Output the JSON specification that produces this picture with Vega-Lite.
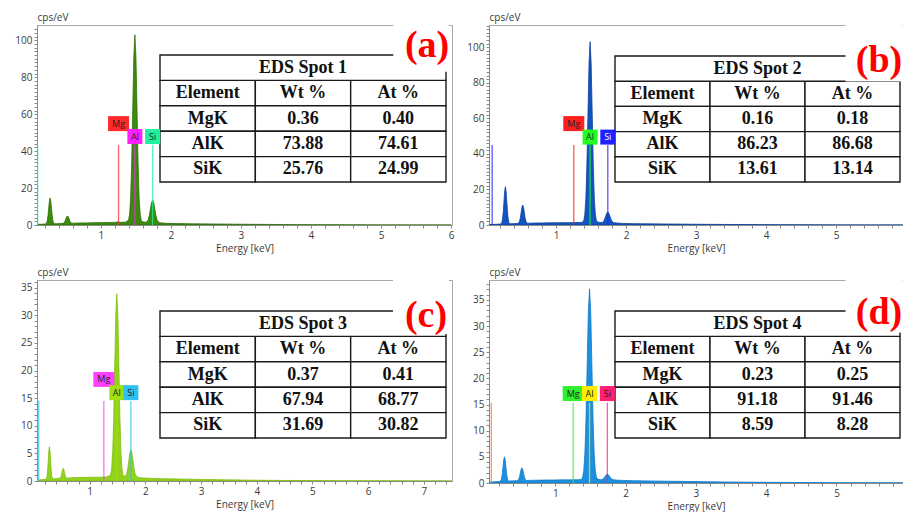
{
"$schema": "https://vega.github.io/schema/vega-lite/v6.json",
"background": "white",
"padding": {"left": 14, "top": 11, "right": 0, "bottom": 0},
"columns": 2,
"spacing": {"row": 55, "column": 37},
"bounds": "flush",
"resolve": {"scale": {"color": "independent", "shape": "independent"}},
"config": {
 "view": {"stroke": "#a8a8a8", "strokeWidth": 1},
 "axis": {"labelFont": "Open Sans", "labelFontSize": 10, "labelColor": "#3a3a3a", "titleFont": "Open Sans", "titleFontSize": 10, "titleFontWeight": "normal", "titleColor": "#3a3a3a", "domainColor": "#8a8a8a", "tickColor": "#8a8a8a", "tickSize": 3, "labelPadding": 2, "grid": false, "labelOverlap": false, "labelFlush": false, "labelBound": false},
 "axisX": {"titlePadding": 3},
 "axisY": {"titleAngle": 0, "titleAlign": "left", "titleBaseline": "middle", "titleX": 0, "titleY": -8, "titlePadding": 0}
},
"datasets": {
 "tbl": [
  {"p":"a","r":"t","k":"Wt %","v":"EDS Spot 1"},
  {"p":"a","r":"h","k":"Element","v":"Element"},{"p":"a","r":"h","k":"Wt %","v":"Wt %"},{"p":"a","r":"h","k":"At %","v":"At %"},
  {"p":"a","r":"MgK","k":"Element","v":"MgK"},{"p":"a","r":"MgK","k":"Wt %","v":"0.36"},{"p":"a","r":"MgK","k":"At %","v":"0.40"},
  {"p":"a","r":"AlK","k":"Element","v":"AlK"},{"p":"a","r":"AlK","k":"Wt %","v":"73.88"},{"p":"a","r":"AlK","k":"At %","v":"74.61"},
  {"p":"a","r":"SiK","k":"Element","v":"SiK"},{"p":"a","r":"SiK","k":"Wt %","v":"25.76"},{"p":"a","r":"SiK","k":"At %","v":"24.99"},
  {"p":"b","r":"t","k":"Wt %","v":"EDS Spot 2"},
  {"p":"b","r":"h","k":"Element","v":"Element"},{"p":"b","r":"h","k":"Wt %","v":"Wt %"},{"p":"b","r":"h","k":"At %","v":"At %"},
  {"p":"b","r":"MgK","k":"Element","v":"MgK"},{"p":"b","r":"MgK","k":"Wt %","v":"0.16"},{"p":"b","r":"MgK","k":"At %","v":"0.18"},
  {"p":"b","r":"AlK","k":"Element","v":"AlK"},{"p":"b","r":"AlK","k":"Wt %","v":"86.23"},{"p":"b","r":"AlK","k":"At %","v":"86.68"},
  {"p":"b","r":"SiK","k":"Element","v":"SiK"},{"p":"b","r":"SiK","k":"Wt %","v":"13.61"},{"p":"b","r":"SiK","k":"At %","v":"13.14"},
  {"p":"c","r":"t","k":"Wt %","v":"EDS Spot 3"},
  {"p":"c","r":"h","k":"Element","v":"Element"},{"p":"c","r":"h","k":"Wt %","v":"Wt %"},{"p":"c","r":"h","k":"At %","v":"At %"},
  {"p":"c","r":"MgK","k":"Element","v":"MgK"},{"p":"c","r":"MgK","k":"Wt %","v":"0.37"},{"p":"c","r":"MgK","k":"At %","v":"0.41"},
  {"p":"c","r":"AlK","k":"Element","v":"AlK"},{"p":"c","r":"AlK","k":"Wt %","v":"67.94"},{"p":"c","r":"AlK","k":"At %","v":"68.77"},
  {"p":"c","r":"SiK","k":"Element","v":"SiK"},{"p":"c","r":"SiK","k":"Wt %","v":"31.69"},{"p":"c","r":"SiK","k":"At %","v":"30.82"},
  {"p":"d","r":"t","k":"Wt %","v":"EDS Spot 4"},
  {"p":"d","r":"h","k":"Element","v":"Element"},{"p":"d","r":"h","k":"Wt %","v":"Wt %"},{"p":"d","r":"h","k":"At %","v":"At %"},
  {"p":"d","r":"MgK","k":"Element","v":"MgK"},{"p":"d","r":"MgK","k":"Wt %","v":"0.23"},{"p":"d","r":"MgK","k":"At %","v":"0.25"},
  {"p":"d","r":"AlK","k":"Element","v":"AlK"},{"p":"d","r":"AlK","k":"Wt %","v":"91.18"},{"p":"d","r":"AlK","k":"At %","v":"91.46"},
  {"p":"d","r":"SiK","k":"Element","v":"SiK"},{"p":"d","r":"SiK","k":"Wt %","v":"8.59"},{"p":"d","r":"SiK","k":"At %","v":"8.28"}
 ],
 "lines": [
  {"p":"a","el":"Mg","e":1.254,"c":43.3},{"p":"a","el":"Al","e":1.487,"c":43.3},{"p":"a","el":"Si","e":1.74,"c":43.3},{"p":"a","el":"SiL","e":0.1,"c":43.3},
  {"p":"b","el":"Mg","e":1.254,"c":45},{"p":"b","el":"Al","e":1.487,"c":45},{"p":"b","el":"Si","e":1.74,"c":45},{"p":"b","el":"SiL","e":0.088,"c":45},
  {"p":"c","el":"Mg","e":1.254,"c":14.5},{"p":"c","el":"Al","e":1.487,"c":14.5},{"p":"c","el":"Si","e":1.74,"c":14.5},{"p":"c","el":"SiL","e":0.085,"c":14.5},
  {"p":"d","el":"Mg","e":1.254,"c":15.35},{"p":"d","el":"Al","e":1.487,"c":15.35},{"p":"d","el":"Si","e":1.74,"c":15.35},{"p":"d","el":"SiL","e":0.09,"c":15.35}
 ],
 "tags": [
  {"p":"a","el":"Mg","e":1.254,"c":54.9},{"p":"a","el":"Al","e":1.487,"c":47.9},{"p":"a","el":"Si","e":1.74,"c":47.9},
  {"p":"b","el":"Mg","e":1.254,"c":57.0},{"p":"b","el":"Al","e":1.487,"c":49.4},{"p":"b","el":"Si","e":1.74,"c":49.4},
  {"p":"c","el":"Mg","e":1.254,"c":18.4},{"p":"c","el":"Al","e":1.487,"c":16.0},{"p":"c","el":"Si","e":1.74,"c":16.0},
  {"p":"d","el":"Mg","e":1.254,"c":17.1},{"p":"d","el":"Al","e":1.487,"c":17.1},{"p":"d","el":"Si","e":1.74,"c":17.1}
 ],
 "lab": [
  {"p":"a","v":"(a)","e":5.657,"c":96.9},
  {"p":"b","v":"(b)","e":5.614,"c":92.1},
  {"p":"c","v":"(c)","e":7.038,"c":29.9},
  {"p":"d","v":"(d)","e":5.605,"c":32.5}
 ],
 "spec": [
  {"p":"a","e":0.09,"c":0.3},{"p":"a","e":0.15,"c":0.4},{"p":"a","e":0.2,"c":0.5},{"p":"a","e":0.217,"c":0.66},{"p":"a","e":0.227,"c":1.12},{"p":"a","e":0.237,"c":2.4},{"p":"a","e":0.247,"c":5.08},{"p":"a","e":0.257,"c":9.06},{"p":"a","e":0.267,"c":12.94},{"p":"a","e":0.277,"c":14.6},{"p":"a","e":0.287,"c":12.9},{"p":"a","e":0.297,"c":9.1},{"p":"a","e":0.307,"c":5.1},{"p":"a","e":0.317,"c":2.4},{"p":"a","e":0.327,"c":1.1},{"p":"a","e":0.337,"c":0.7},{"p":"a","e":0.37,"c":0.7},{"p":"a","e":0.42,"c":0.8},{"p":"a","e":0.45,"c":0.9},{"p":"a","e":0.459,"c":0.94},{"p":"a","e":0.47,"c":1.08},{"p":"a","e":0.481,"c":1.44},{"p":"a","e":0.492,"c":2.2},{"p":"a","e":0.503,"c":3.33},{"p":"a","e":0.514,"c":4.43},{"p":"a","e":0.525,"c":4.9},{"p":"a","e":0.536,"c":4.43},{"p":"a","e":0.547,"c":3.33},{"p":"a","e":0.558,"c":2.2},{"p":"a","e":0.569,"c":1.44},{"p":"a","e":0.58,"c":1.08},{"p":"a","e":0.591,"c":0.95},{"p":"a","e":0.62,"c":1.0},{"p":"a","e":0.7,"c":1.1},{"p":"a","e":0.8,"c":1.15},{"p":"a","e":0.9,"c":1.25},{"p":"a","e":1.0,"c":1.3},{"p":"a","e":1.1,"c":1.35},{"p":"a","e":1.2,"c":1.4},{"p":"a","e":1.25,"c":1.7},{"p":"a","e":1.27,"c":1.5},{"p":"a","e":1.3,"c":1.45},{"p":"a","e":1.35,"c":1.5},{"p":"a","e":1.397,"c":2.6},{"p":"a","e":1.412,"c":6.0},{"p":"a","e":1.427,"c":15.2},{"p":"a","e":1.442,"c":34.5},{"p":"a","e":1.457,"c":63.1},{"p":"a","e":1.472,"c":91.1},{"p":"a","e":1.487,"c":103},{"p":"a","e":1.502,"c":91.1},{"p":"a","e":1.517,"c":63.1},{"p":"a","e":1.532,"c":34.5},{"p":"a","e":1.547,"c":15.2},{"p":"a","e":1.562,"c":6.0},{"p":"a","e":1.577,"c":2.6},{"p":"a","e":1.59,"c":1.9},{"p":"a","e":1.61,"c":1.6},{"p":"a","e":1.64,"c":1.5},{"p":"a","e":1.6625,"c":1.84},{"p":"a","e":1.678,"c":2.95},{"p":"a","e":1.6935,"c":5.26},{"p":"a","e":1.709,"c":8.7},{"p":"a","e":1.7245,"c":12.07},{"p":"a","e":1.74,"c":13.5},{"p":"a","e":1.7555,"c":12.07},{"p":"a","e":1.771,"c":8.7},{"p":"a","e":1.7865,"c":5.26},{"p":"a","e":1.802,"c":2.95},{"p":"a","e":1.8175,"c":1.84},{"p":"a","e":1.833,"c":1.4},{"p":"a","e":1.87,"c":1.1},{"p":"a","e":1.95,"c":0.9},{"p":"a","e":2.1,"c":0.75},{"p":"a","e":2.3,"c":0.65},{"p":"a","e":2.6,"c":0.55},{"p":"a","e":3.0,"c":0.4},{"p":"a","e":3.4,"c":0.3},{"p":"a","e":3.8,"c":0.2},{"p":"a","e":4.2,"c":0.12},{"p":"a","e":4.6,"c":0.08},{"p":"a","e":5.0,"c":0.05},{"p":"a","e":5.5,"c":0.03},{"p":"a","e":6.0,"c":0.02},
  {"p":"b","e":0.043,"c":0.2},{"p":"b","e":0.1,"c":0.3},{"p":"b","e":0.15,"c":0.4},{"p":"b","e":0.2,"c":0.5},{"p":"b","e":0.217,"c":0.73},{"p":"b","e":0.227,"c":1.42},{"p":"b","e":0.237,"c":3.34},{"p":"b","e":0.247,"c":7.33},{"p":"b","e":0.257,"c":13.25},{"p":"b","e":0.267,"c":19.03},{"p":"b","e":0.277,"c":21.5},{"p":"b","e":0.287,"c":19.03},{"p":"b","e":0.297,"c":13.25},{"p":"b","e":0.307,"c":7.33},{"p":"b","e":0.317,"c":3.34},{"p":"b","e":0.327,"c":1.42},{"p":"b","e":0.337,"c":0.75},{"p":"b","e":0.37,"c":0.7},{"p":"b","e":0.42,"c":0.8},{"p":"b","e":0.45,"c":0.9},{"p":"b","e":0.459,"c":1.01},{"p":"b","e":0.47,"c":1.35},{"p":"b","e":0.481,"c":2.29},{"p":"b","e":0.492,"c":4.25},{"p":"b","e":0.503,"c":7.15},{"p":"b","e":0.514,"c":9.99},{"p":"b","e":0.525,"c":11.2},{"p":"b","e":0.536,"c":9.99},{"p":"b","e":0.547,"c":7.15},{"p":"b","e":0.558,"c":4.25},{"p":"b","e":0.569,"c":2.29},{"p":"b","e":0.58,"c":1.35},{"p":"b","e":0.591,"c":1.0},{"p":"b","e":0.62,"c":1.0},{"p":"b","e":0.7,"c":1.1},{"p":"b","e":0.8,"c":1.15},{"p":"b","e":0.9,"c":1.2},{"p":"b","e":1.0,"c":1.25},{"p":"b","e":1.1,"c":1.3},{"p":"b","e":1.2,"c":1.3},{"p":"b","e":1.3,"c":1.35},{"p":"b","e":1.37,"c":1.4},{"p":"b","e":1.397,"c":2.5},{"p":"b","e":1.412,"c":5.9},{"p":"b","e":1.427,"c":15.1},{"p":"b","e":1.442,"c":34.4},{"p":"b","e":1.457,"c":63.0},{"p":"b","e":1.472,"c":91.0},{"p":"b","e":1.487,"c":103},{"p":"b","e":1.502,"c":91.0},{"p":"b","e":1.517,"c":63.0},{"p":"b","e":1.532,"c":34.4},{"p":"b","e":1.547,"c":15.1},{"p":"b","e":1.562,"c":5.9},{"p":"b","e":1.577,"c":2.5},{"p":"b","e":1.59,"c":1.8},{"p":"b","e":1.61,"c":1.5},{"p":"b","e":1.64,"c":1.4},{"p":"b","e":1.6625,"c":1.47},{"p":"b","e":1.678,"c":2.02},{"p":"b","e":1.6935,"c":3.18},{"p":"b","e":1.709,"c":4.9},{"p":"b","e":1.7245,"c":6.58},{"p":"b","e":1.74,"c":7.3},{"p":"b","e":1.7555,"c":6.58},{"p":"b","e":1.771,"c":4.9},{"p":"b","e":1.7865,"c":3.18},{"p":"b","e":1.802,"c":2.02},{"p":"b","e":1.8175,"c":1.47},{"p":"b","e":1.833,"c":1.27},{"p":"b","e":1.87,"c":1.1},{"p":"b","e":1.95,"c":0.9},{"p":"b","e":2.1,"c":0.75},{"p":"b","e":2.3,"c":0.65},{"p":"b","e":2.6,"c":0.55},{"p":"b","e":3.0,"c":0.42},{"p":"b","e":3.4,"c":0.3},{"p":"b","e":3.8,"c":0.22},{"p":"b","e":4.2,"c":0.15},{"p":"b","e":4.6,"c":0.1},{"p":"b","e":5.0,"c":0.07},{"p":"b","e":5.5,"c":0.04},{"p":"b","e":5.96,"c":0.03},
  {"p":"c","e":0.054,"c":0.15},{"p":"c","e":0.1,"c":0.2},{"p":"c","e":0.15,"c":0.25},{"p":"c","e":0.2,"c":0.3},{"p":"c","e":0.217,"c":0.37},{"p":"c","e":0.227,"c":0.56},{"p":"c","e":0.237,"c":1.1},{"p":"c","e":0.247,"c":2.22},{"p":"c","e":0.257,"c":3.88},{"p":"c","e":0.267,"c":5.51},{"p":"c","e":0.277,"c":6.2},{"p":"c","e":0.287,"c":5.51},{"p":"c","e":0.297,"c":3.88},{"p":"c","e":0.307,"c":2.22},{"p":"c","e":0.317,"c":1.1},{"p":"c","e":0.327,"c":0.56},{"p":"c","e":0.337,"c":0.4},{"p":"c","e":0.37,"c":0.4},{"p":"c","e":0.42,"c":0.45},{"p":"c","e":0.45,"c":0.5},{"p":"c","e":0.459,"c":0.52},{"p":"c","e":0.47,"c":0.58},{"p":"c","e":0.481,"c":0.74},{"p":"c","e":0.492,"c":1.09},{"p":"c","e":0.503,"c":1.59},{"p":"c","e":0.514,"c":2.09},{"p":"c","e":0.525,"c":2.3},{"p":"c","e":0.536,"c":2.09},{"p":"c","e":0.547,"c":1.59},{"p":"c","e":0.558,"c":1.09},{"p":"c","e":0.569,"c":0.74},{"p":"c","e":0.58,"c":0.58},{"p":"c","e":0.591,"c":0.52},{"p":"c","e":0.62,"c":0.55},{"p":"c","e":0.7,"c":0.6},{"p":"c","e":0.8,"c":0.62},{"p":"c","e":0.9,"c":0.65},{"p":"c","e":1.0,"c":0.67},{"p":"c","e":1.1,"c":0.7},{"p":"c","e":1.2,"c":0.7},{"p":"c","e":1.3,"c":0.72},{"p":"c","e":1.376,"c":1.1},{"p":"c","e":1.3945,"c":2.2},{"p":"c","e":1.413,"c":5.2},{"p":"c","e":1.4315,"c":11.5},{"p":"c","e":1.45,"c":20.9},{"p":"c","e":1.4685,"c":30.0},{"p":"c","e":1.487,"c":33.9},{"p":"c","e":1.5055,"c":30.0},{"p":"c","e":1.524,"c":20.9},{"p":"c","e":1.5425,"c":11.5},{"p":"c","e":1.561,"c":5.2},{"p":"c","e":1.5795,"c":2.2},{"p":"c","e":1.598,"c":1.1},{"p":"c","e":1.62,"c":0.85},{"p":"c","e":1.6475,"c":0.95},{"p":"c","e":1.666,"c":1.38},{"p":"c","e":1.6845,"c":2.32},{"p":"c","e":1.703,"c":3.73},{"p":"c","e":1.7215,"c":5.11},{"p":"c","e":1.74,"c":5.7},{"p":"c","e":1.7585,"c":5.11},{"p":"c","e":1.777,"c":3.73},{"p":"c","e":1.7955,"c":2.32},{"p":"c","e":1.814,"c":1.38},{"p":"c","e":1.8325,"c":0.92},{"p":"c","e":1.851,"c":0.76},{"p":"c","e":1.9,"c":0.6},{"p":"c","e":1.95,"c":0.55},{"p":"c","e":2.1,"c":0.48},{"p":"c","e":2.3,"c":0.42},{"p":"c","e":2.6,"c":0.36},{"p":"c","e":3.0,"c":0.28},{"p":"c","e":3.4,"c":0.22},{"p":"c","e":3.8,"c":0.16},{"p":"c","e":4.2,"c":0.12},{"p":"c","e":4.6,"c":0.09},{"p":"c","e":5.0,"c":0.07},{"p":"c","e":5.5,"c":0.05},{"p":"c","e":6.0,"c":0.04},{"p":"c","e":6.5,"c":0.03},{"p":"c","e":7.0,"c":0.02},{"p":"c","e":7.5,"c":0.02},
  {"p":"d","e":0.057,"c":0.15},{"p":"d","e":0.1,"c":0.2},{"p":"d","e":0.15,"c":0.25},{"p":"d","e":0.2,"c":0.3},{"p":"d","e":0.217,"c":0.35},{"p":"d","e":0.227,"c":0.51},{"p":"d","e":0.237,"c":0.93},{"p":"d","e":0.247,"c":1.83},{"p":"d","e":0.257,"c":3.15},{"p":"d","e":0.267,"c":4.45},{"p":"d","e":0.277,"c":5.0},{"p":"d","e":0.287,"c":4.45},{"p":"d","e":0.297,"c":3.15},{"p":"d","e":0.307,"c":1.83},{"p":"d","e":0.317,"c":0.93},{"p":"d","e":0.327,"c":0.51},{"p":"d","e":0.337,"c":0.38},{"p":"d","e":0.37,"c":0.4},{"p":"d","e":0.42,"c":0.42},{"p":"d","e":0.45,"c":0.45},{"p":"d","e":0.459,"c":0.48},{"p":"d","e":0.47,"c":0.56},{"p":"d","e":0.481,"c":0.78},{"p":"d","e":0.492,"c":1.25},{"p":"d","e":0.503,"c":1.94},{"p":"d","e":0.514,"c":2.61},{"p":"d","e":0.525,"c":2.9},{"p":"d","e":0.536,"c":2.61},{"p":"d","e":0.547,"c":1.94},{"p":"d","e":0.558,"c":1.25},{"p":"d","e":0.569,"c":0.78},{"p":"d","e":0.58,"c":0.56},{"p":"d","e":0.591,"c":0.48},{"p":"d","e":0.62,"c":0.5},{"p":"d","e":0.7,"c":0.52},{"p":"d","e":0.8,"c":0.55},{"p":"d","e":0.9,"c":0.57},{"p":"d","e":1.0,"c":0.58},{"p":"d","e":1.1,"c":0.6},{"p":"d","e":1.2,"c":0.6},{"p":"d","e":1.3,"c":0.62},{"p":"d","e":1.37,"c":0.65},{"p":"d","e":1.388,"c":1.05},{"p":"d","e":1.4045,"c":2.25},{"p":"d","e":1.421,"c":5.58},{"p":"d","e":1.4375,"c":12.5},{"p":"d","e":1.454,"c":22.77},{"p":"d","e":1.4705,"c":32.82},{"p":"d","e":1.487,"c":37.1},{"p":"d","e":1.5035,"c":32.82},{"p":"d","e":1.52,"c":22.77},{"p":"d","e":1.5365,"c":12.5},{"p":"d","e":1.553,"c":5.58},{"p":"d","e":1.5695,"c":2.25},{"p":"d","e":1.586,"c":1.05},{"p":"d","e":1.61,"c":0.7},{"p":"d","e":1.647,"c":0.61},{"p":"d","e":1.6625,"c":0.65},{"p":"d","e":1.678,"c":0.75},{"p":"d","e":1.6935,"c":0.96},{"p":"d","e":1.709,"c":1.27},{"p":"d","e":1.7245,"c":1.57},{"p":"d","e":1.74,"c":1.7},{"p":"d","e":1.7555,"c":1.57},{"p":"d","e":1.771,"c":1.27},{"p":"d","e":1.7865,"c":0.96},{"p":"d","e":1.802,"c":0.75},{"p":"d","e":1.8175,"c":0.65},{"p":"d","e":1.833,"c":0.61},{"p":"d","e":1.87,"c":0.55},{"p":"d","e":1.95,"c":0.5},{"p":"d","e":2.1,"c":0.45},{"p":"d","e":2.3,"c":0.4},{"p":"d","e":2.6,"c":0.34},{"p":"d","e":3.0,"c":0.27},{"p":"d","e":3.4,"c":0.2},{"p":"d","e":3.8,"c":0.15},{"p":"d","e":4.2,"c":0.11},{"p":"d","e":4.6,"c":0.08},{"p":"d","e":5.0,"c":0.06},{"p":"d","e":5.5,"c":0.04},{"p":"d","e":5.95,"c":0.03}
 ]
},
"concat": [
 {
  "width": 415, "height": 200,
  "layer": [
   {
    "data": {"name": "tbl"},
    "transform": [{"filter": "datum.p === 'a'"}],
    "encoding": {
     "x": {"field": "k", "type": "nominal", "scale": {"domain": ["Element", "Wt %", "At %"], "range": [123, 409], "paddingInner": 0, "paddingOuter": 0}, "axis": null},
     "y": {"field": "r", "type": "nominal", "scale": {"domain": ["t", "h", "MgK", "AlK", "SiK"], "range": [30, 157], "paddingInner": 0, "paddingOuter": 0}, "axis": null}
    },
    "layer": [
     {"transform": [{"filter": "datum.r !== 't'"}], "mark": {"type": "rect", "fill": "white", "stroke": "#1a1a1a", "strokeWidth": 1.4}},
     {"transform": [{"filter": "datum.r === 't'"}], "mark": {"type": "rect", "width": 286, "fill": "white", "stroke": "#1a1a1a", "strokeWidth": 1.4}},
     {"mark": {"type": "text", "font": "Liberation Serif", "fontWeight": "bold", "fontSize": 18, "color": "#111111"}, "encoding": {"text": {"field": "v", "type": "nominal"}}}
    ]
   },
   {
    "encoding": {
     "x": {"field": "e", "type": "quantitative", "title": "Energy [keV]", "scale": {"domain": [0.09, 6.013], "nice": false, "zero": false},
      "axis": {"labelOverlap": false, "values": [0.2,0.4,0.6,0.8,1,1.2,1.4,1.6,1.8,2,2.2,2.4,2.6,2.8,3,3.2,3.4,3.6,3.8,4,4.2,4.4,4.6,4.8,5,5.2,5.4,5.6,5.8,6], "labelExpr": "datum.value % 1 === 0 ? '' + datum.value : ''"}},
     "y": {"field": "c", "type": "quantitative", "title": "cps/eV", "scale": {"domain": [0, 108.3], "nice": false},
      "axis": {"labelOverlap": false, "values": [0,2,4,6,8,10,12,14,16,18,20,22,24,26,28,30,32,34,36,38,40,42,44,46,48,50,52,54,56,58,60,62,64,66,68,70,72,74,76,78,80,82,84,86,88,90,92,94,96,98,100,102,104,106], "labelExpr": "datum.value % 20 === 0 ? '' + datum.value : ''"}}
    },
    "layer": [
     {"data": {"name": "spec"}, "transform": [{"filter": "datum.p === 'a'"}],
      "mark": {"type": "area", "clip": true, "fill": "#3a8a0c", "stroke": "#2c6e06", "strokeWidth": 0.8, "fillOpacity": 1}},
     {"data": {"name": "lines"}, "transform": [{"filter": "datum.p === 'a'"}],
      "mark": {"type": "rule", "strokeWidth": 1.3, "opacity": 0.75},
      "encoding": {"y2": {"datum": 0},
       "color": {"field": "el", "type": "nominal", "scale": {"domain": ["Mg", "Al", "Si", "SiL"], "range": ["#ff2a2a", "#ff20ff", "#20f0a0", "#20f0a0"]}, "legend": null}}},
     {"data": {"name": "tags"}, "transform": [{"filter": "datum.p === 'a'"}],
      "mark": {"type": "point", "filled": true, "opacity": 1, "size": 225, "strokeWidth": 0},
      "encoding": {
       "color": {"field": "el", "type": "nominal", "scale": {"domain": ["Mg", "Al", "Si", "SiL"], "range": ["#ff2a2a", "#ff20ff", "#20f0a0", "#20f0a0"]}, "legend": null},
       "shape": {"field": "el", "type": "nominal", "scale": {"domain": ["Mg", "Al", "Si"], "range": ["M-1.4,-1H1.4V1H-1.4Z", "square", "square"]}, "legend": null}}},
     {"data": {"name": "tags"}, "transform": [{"filter": "datum.p === 'a'"}],
      "mark": {"type": "text", "font": "Open Sans", "fontSize": 9, "color": "#222222"},
      "encoding": {"text": {"field": "el", "type": "nominal"}}},
     {"data": {"name": "lab"}, "transform": [{"filter": "datum.p === 'a'"}],
      "mark": {"type": "point", "shape": "square", "size": 3080, "filled": true, "color": "white", "opacity": 1, "strokeWidth": 0, "xOffset": -6, "yOffset": -2}},
     {"data": {"name": "lab"}, "transform": [{"filter": "datum.p === 'a'"}],
      "mark": {"type": "text", "font": "Liberation Serif", "fontWeight": "bold", "fontSize": 38, "color": "#ff0000"},
      "encoding": {"text": {"field": "v", "type": "nominal"}}}
    ]
   }
  ],
  "resolve": {"scale": {"x": "independent", "y": "independent"}}
 },
 {
  "width": 414, "height": 200,
  "layer": [
   {
    "data": {"name": "tbl"},
    "transform": [{"filter": "datum.p === 'b'"}],
    "encoding": {
     "x": {"field": "k", "type": "nominal", "scale": {"domain": ["Element", "Wt %", "At %"], "range": [126, 411], "paddingInner": 0, "paddingOuter": 0}, "axis": null},
     "y": {"field": "r", "type": "nominal", "scale": {"domain": ["t", "h", "MgK", "AlK", "SiK"], "range": [31, 157], "paddingInner": 0, "paddingOuter": 0}, "axis": null}
    },
    "layer": [
     {"transform": [{"filter": "datum.r !== 't'"}], "mark": {"type": "rect", "fill": "white", "stroke": "#1a1a1a", "strokeWidth": 1.4}},
     {"transform": [{"filter": "datum.r === 't'"}], "mark": {"type": "rect", "width": 285, "fill": "white", "stroke": "#1a1a1a", "strokeWidth": 1.4}},
     {"mark": {"type": "text", "font": "Liberation Serif", "fontWeight": "bold", "fontSize": 18, "color": "#111111"}, "encoding": {"text": {"field": "v", "type": "nominal"}}}
    ]
   },
   {
    "encoding": {
     "x": {"field": "e", "type": "quantitative", "title": "Energy [keV]", "scale": {"domain": [0.043, 5.957], "nice": false, "zero": false},
      "axis": {"labelOverlap": false, "values": [0.2,0.4,0.6,0.8,1,1.2,1.4,1.6,1.8,2,2.2,2.4,2.6,2.8,3,3.2,3.4,3.6,3.8,4,4.2,4.4,4.6,4.8,5,5.2,5.4,5.6,5.8], "labelExpr": "datum.value % 1 === 0 ? '' + datum.value : ''"}},
     "y": {"field": "c", "type": "quantitative", "title": "cps/eV", "scale": {"domain": [0, 112.4], "nice": false},
      "axis": {"labelOverlap": false, "values": [0,2,4,6,8,10,12,14,16,18,20,22,24,26,28,30,32,34,36,38,40,42,44,46,48,50,52,54,56,58,60,62,64,66,68,70,72,74,76,78,80,82,84,86,88,90,92,94,96,98,100,102,104,106,108,110,112], "labelExpr": "datum.value % 20 === 0 ? '' + datum.value : ''"}}
    },
    "layer": [
     {"data": {"name": "spec"}, "transform": [{"filter": "datum.p === 'b'"}],
      "mark": {"type": "area", "clip": true, "fill": "#1254c0", "stroke": "#0b3f99", "strokeWidth": 0.8, "fillOpacity": 1}},
     {"data": {"name": "lines"}, "transform": [{"filter": "datum.p === 'b'"}],
      "mark": {"type": "rule", "strokeWidth": 1.3, "opacity": 0.75},
      "encoding": {"y2": {"datum": 0},
       "color": {"field": "el", "type": "nominal", "scale": {"domain": ["Mg", "Al", "Si", "SiL"], "range": ["#ff2020", "#20ff20", "#2020ff", "#2020ff"]}, "legend": null}}},
     {"data": {"name": "tags"}, "transform": [{"filter": "datum.p === 'b'"}],
      "mark": {"type": "point", "filled": true, "opacity": 1, "size": 225, "strokeWidth": 0},
      "encoding": {
       "color": {"field": "el", "type": "nominal", "scale": {"domain": ["Mg", "Al", "Si", "SiL"], "range": ["#ff2020", "#20ff20", "#2020ff", "#2020ff"]}, "legend": null},
       "shape": {"field": "el", "type": "nominal", "scale": {"domain": ["Mg", "Al", "Si"], "range": ["M-1.4,-1H1.4V1H-1.4Z", "square", "square"]}, "legend": null}}},
     {"data": {"name": "tags"}, "transform": [{"filter": "datum.p === 'b'"}],
      "mark": {"type": "text", "font": "Open Sans", "fontSize": 9},
      "encoding": {"text": {"field": "el", "type": "nominal"},
       "color": {"condition": {"test": "datum.el === 'Si'", "value": "#ffffff"}, "value": "#222222"}}},
     {"data": {"name": "lab"}, "transform": [{"filter": "datum.p === 'b'"}],
      "mark": {"type": "point", "shape": "square", "size": 3249, "filled": true, "color": "white", "opacity": 1, "strokeWidth": 0, "xOffset": -5, "yOffset": -8}},
     {"data": {"name": "lab"}, "transform": [{"filter": "datum.p === 'b'"}],
      "mark": {"type": "text", "font": "Liberation Serif", "fontWeight": "bold", "fontSize": 38, "color": "#ff0000"},
      "encoding": {"text": {"field": "v", "type": "nominal"}}}
    ]
   }
  ],
  "resolve": {"scale": {"x": "independent", "y": "independent"}}
 },
 {
  "width": 415, "height": 201,
  "layer": [
   {
    "data": {"name": "tbl"},
    "transform": [{"filter": "datum.p === 'c'"}],
    "encoding": {
     "x": {"field": "k", "type": "nominal", "scale": {"domain": ["Element", "Wt %", "At %"], "range": [123, 409], "paddingInner": 0, "paddingOuter": 0}, "axis": null},
     "y": {"field": "r", "type": "nominal", "scale": {"domain": ["t", "h", "MgK", "AlK", "SiK"], "range": [31, 158], "paddingInner": 0, "paddingOuter": 0}, "axis": null}
    },
    "layer": [
     {"transform": [{"filter": "datum.r !== 't'"}], "mark": {"type": "rect", "fill": "white", "stroke": "#1a1a1a", "strokeWidth": 1.4}},
     {"transform": [{"filter": "datum.r === 't'"}], "mark": {"type": "rect", "width": 286, "fill": "white", "stroke": "#1a1a1a", "strokeWidth": 1.4}},
     {"mark": {"type": "text", "font": "Liberation Serif", "fontWeight": "bold", "fontSize": 18, "color": "#111111"}, "encoding": {"text": {"field": "v", "type": "nominal"}}}
    ]
   },
   {
    "encoding": {
     "x": {"field": "e", "type": "quantitative", "title": "Energy [keV]", "scale": {"domain": [0.054, 7.505], "nice": false, "zero": false},
      "axis": {"labelOverlap": false, "values": [0.2,0.4,0.6,0.8,1,1.2,1.4,1.6,1.8,2,2.2,2.4,2.6,2.8,3,3.2,3.4,3.6,3.8,4,4.2,4.4,4.6,4.8,5,5.2,5.4,5.6,5.8,6,6.2,6.4,6.6,6.8,7,7.2,7.4], "labelExpr": "datum.value % 1 === 0 ? '' + datum.value : ''"}},
     "y": {"field": "c", "type": "quantitative", "title": "cps/eV", "scale": {"domain": [0, 36.4], "nice": false},
      "axis": {"labelOverlap": false, "values": [0,1,2,3,4,5,6,7,8,9,10,11,12,13,14,15,16,17,18,19,20,21,22,23,24,25,26,27,28,29,30,31,32,33,34,35,36], "labelExpr": "datum.value % 5 === 0 ? '' + datum.value : ''"}}
    },
    "layer": [
     {"data": {"name": "spec"}, "transform": [{"filter": "datum.p === 'c'"}],
      "mark": {"type": "area", "clip": true, "fill": "#92d21c", "stroke": "#7fbf10", "strokeWidth": 0.8, "fillOpacity": 1}},
     {"data": {"name": "lines"}, "transform": [{"filter": "datum.p === 'c'"}],
      "mark": {"type": "rule", "strokeWidth": 1.3, "opacity": 0.75},
      "encoding": {"y2": {"datum": 0},
       "color": {"field": "el", "type": "nominal", "scale": {"domain": ["Mg", "Al", "Si", "SiL"], "range": ["#ff40ff", "#a0e010", "#30c0f0", "#30c0f0"]}, "legend": null}}},
     {"data": {"name": "tags"}, "transform": [{"filter": "datum.p === 'c'"}],
      "mark": {"type": "point", "filled": true, "opacity": 1, "size": 225, "strokeWidth": 0},
      "encoding": {
       "color": {"field": "el", "type": "nominal", "scale": {"domain": ["Mg", "Al", "Si", "SiL"], "range": ["#ff40ff", "#a0e010", "#30c0f0", "#30c0f0"]}, "legend": null},
       "shape": {"field": "el", "type": "nominal", "scale": {"domain": ["Mg", "Al", "Si"], "range": ["M-1.4,-1H1.4V1H-1.4Z", "square", "square"]}, "legend": null}}},
     {"data": {"name": "tags"}, "transform": [{"filter": "datum.p === 'c'"}],
      "mark": {"type": "text", "font": "Open Sans", "fontSize": 9, "color": "#222222"},
      "encoding": {"text": {"field": "el", "type": "nominal"}}},
     {"data": {"name": "lab"}, "transform": [{"filter": "datum.p === 'c'"}],
      "mark": {"type": "point", "shape": "square", "size": 3136, "filled": true, "color": "white", "opacity": 1, "strokeWidth": 0, "xOffset": -5, "yOffset": -10}},
     {"data": {"name": "lab"}, "transform": [{"filter": "datum.p === 'c'"}],
      "mark": {"type": "text", "font": "Liberation Serif", "fontWeight": "bold", "fontSize": 38, "color": "#ff0000"},
      "encoding": {"text": {"field": "v", "type": "nominal"}}}
    ]
   }
  ],
  "resolve": {"scale": {"x": "independent", "y": "independent"}}
 },
 {
  "width": 414, "height": 203,
  "layer": [
   {
    "data": {"name": "tbl"},
    "transform": [{"filter": "datum.p === 'd'"}],
    "encoding": {
     "x": {"field": "k", "type": "nominal", "scale": {"domain": ["Element", "Wt %", "At %"], "range": [126, 411], "paddingInner": 0, "paddingOuter": 0}, "axis": null},
     "y": {"field": "r", "type": "nominal", "scale": {"domain": ["t", "h", "MgK", "AlK", "SiK"], "range": [31, 158], "paddingInner": 0, "paddingOuter": 0}, "axis": null}
    },
    "layer": [
     {"transform": [{"filter": "datum.r !== 't'"}], "mark": {"type": "rect", "fill": "white", "stroke": "#1a1a1a", "strokeWidth": 1.4}},
     {"transform": [{"filter": "datum.r === 't'"}], "mark": {"type": "rect", "width": 285, "fill": "white", "stroke": "#1a1a1a", "strokeWidth": 1.4}},
     {"mark": {"type": "text", "font": "Liberation Serif", "fontWeight": "bold", "fontSize": 18, "color": "#111111"}, "encoding": {"text": {"field": "v", "type": "nominal"}}}
    ]
   },
   {
    "encoding": {
     "x": {"field": "e", "type": "quantitative", "title": "Energy [keV]", "scale": {"domain": [0.057, 5.946], "nice": false, "zero": false},
      "axis": {"labelOverlap": false, "values": [0.2,0.4,0.6,0.8,1,1.2,1.4,1.6,1.8,2,2.2,2.4,2.6,2.8,3,3.2,3.4,3.6,3.8,4,4.2,4.4,4.6,4.8,5,5.2,5.4,5.6,5.8], "labelExpr": "datum.value % 1 === 0 ? '' + datum.value : ''"}},
     "y": {"field": "c", "type": "quantitative", "title": "cps/eV", "scale": {"domain": [0, 38.8], "nice": false},
      "axis": {"labelOverlap": false, "values": [0,1,2,3,4,5,6,7,8,9,10,11,12,13,14,15,16,17,18,19,20,21,22,23,24,25,26,27,28,29,30,31,32,33,34,35,36,37,38], "labelExpr": "datum.value % 5 === 0 ? '' + datum.value : ''"}}
    },
    "layer": [
     {"data": {"name": "spec"}, "transform": [{"filter": "datum.p === 'd'"}],
      "mark": {"type": "area", "clip": true, "fill": "#1b90e0", "stroke": "#0f78c8", "strokeWidth": 0.8, "fillOpacity": 1}},
     {"data": {"name": "lines"}, "transform": [{"filter": "datum.p === 'd'"}],
      "mark": {"type": "rule", "strokeWidth": 1.3, "opacity": 0.75},
      "encoding": {"y2": {"datum": 0},
       "color": {"field": "el", "type": "nominal", "scale": {"domain": ["Mg", "Al", "Si", "SiL"], "range": ["#30f030", "#ffee00", "#ff2070", "#ff7040"]}, "legend": null}}},
     {"data": {"name": "tags"}, "transform": [{"filter": "datum.p === 'd'"}],
      "mark": {"type": "point", "filled": true, "opacity": 1, "size": 225, "strokeWidth": 0},
      "encoding": {
       "color": {"field": "el", "type": "nominal", "scale": {"domain": ["Mg", "Al", "Si", "SiL"], "range": ["#30f030", "#ffee00", "#ff2070", "#ff7040"]}, "legend": null},
       "shape": {"field": "el", "type": "nominal", "scale": {"domain": ["Mg", "Al", "Si"], "range": ["M-1.4,-1H1.4V1H-1.4Z", "square", "square"]}, "legend": null}}},
     {"data": {"name": "tags"}, "transform": [{"filter": "datum.p === 'd'"}],
      "mark": {"type": "text", "font": "Open Sans", "fontSize": 9, "color": "#222222"},
      "encoding": {"text": {"field": "el", "type": "nominal"}}},
     {"data": {"name": "lab"}, "transform": [{"filter": "datum.p === 'd'"}],
      "mark": {"type": "point", "shape": "square", "size": 3249, "filled": true, "color": "white", "opacity": 1, "strokeWidth": 0, "xOffset": -5, "yOffset": -9}},
     {"data": {"name": "lab"}, "transform": [{"filter": "datum.p === 'd'"}],
      "mark": {"type": "text", "font": "Liberation Serif", "fontWeight": "bold", "fontSize": 38, "color": "#ff0000"},
      "encoding": {"text": {"field": "v", "type": "nominal"}}}
    ]
   }
  ],
  "resolve": {"scale": {"x": "independent", "y": "independent"}}
 }
]
}
